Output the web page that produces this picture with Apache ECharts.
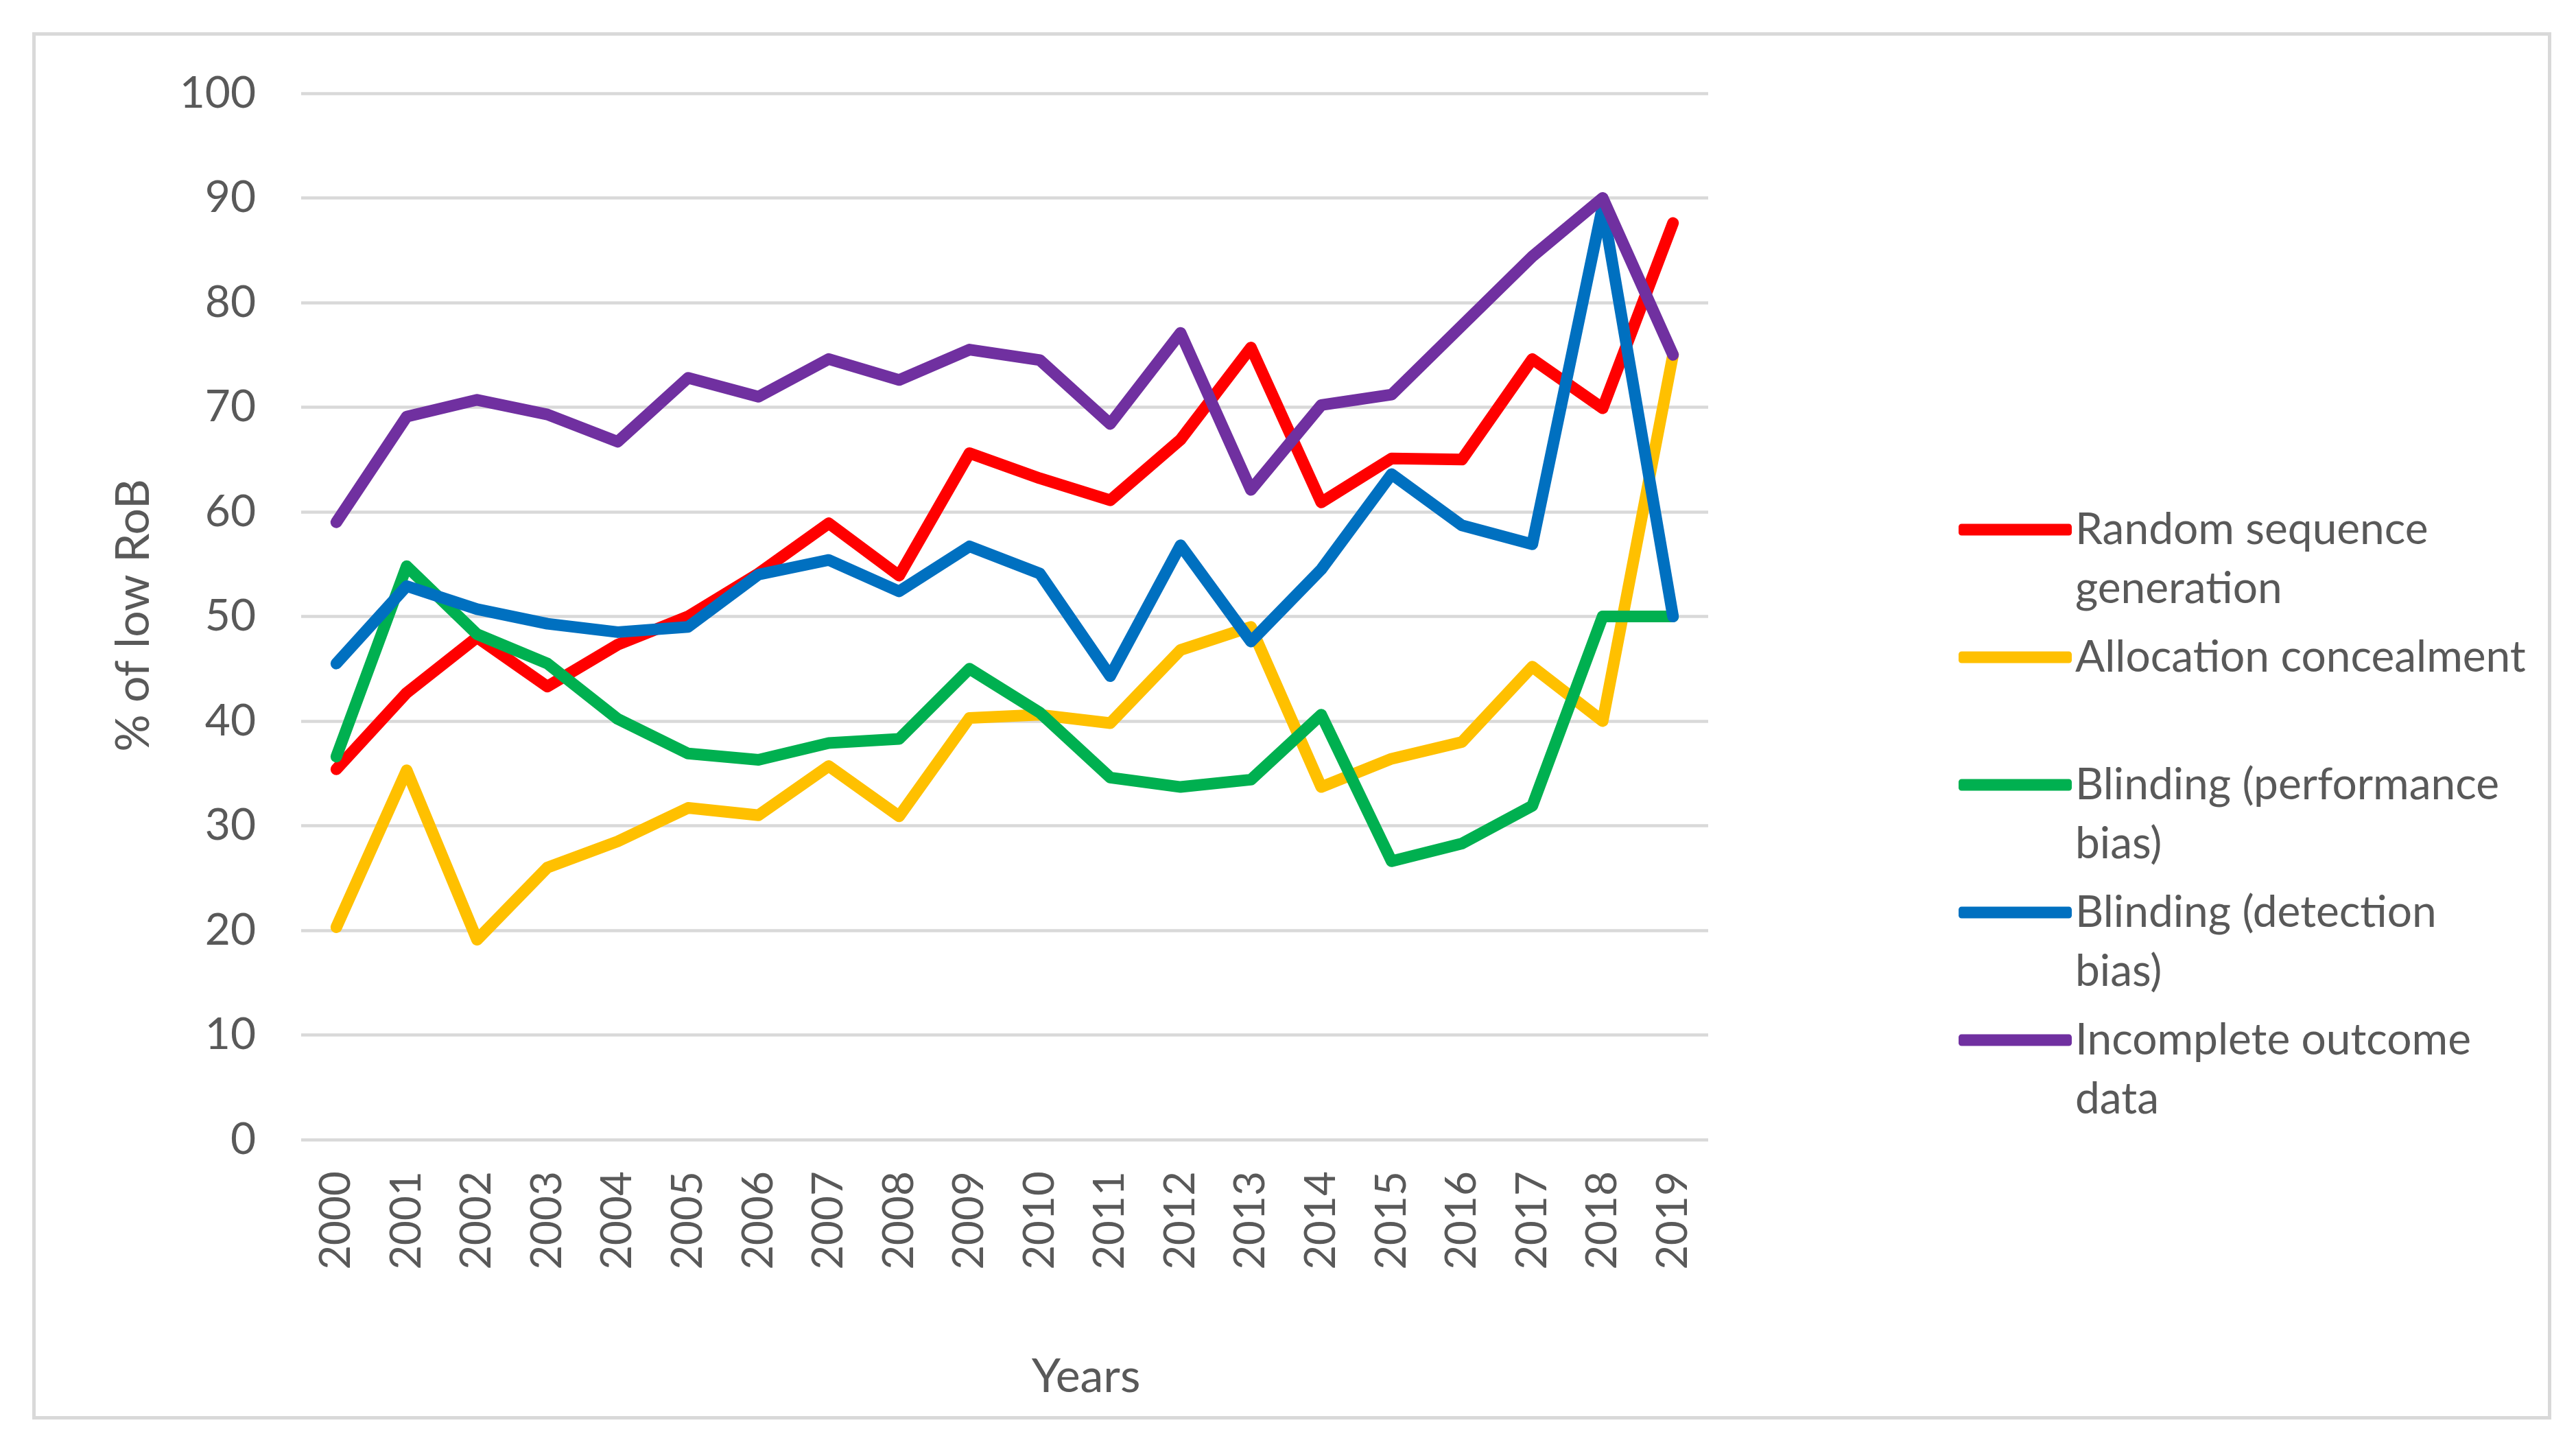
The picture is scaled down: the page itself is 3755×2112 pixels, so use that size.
<!DOCTYPE html>
<html>
<head>
<meta charset="utf-8">
<script src="https://cdn.jsdelivr.net/npm/echarts@6/dist/echarts.min.js"></script>
<style>
html,body{margin:0;padding:0;background:#fff;}
#chart{width:3755px;height:2112px;}
</style>
</head>
<body>
<div id="chart"></div>
<script>
const years = ['2000','2001','2002','2003','2004','2005','2006','2007','2008','2009','2010','2011','2012','2013','2014','2015','2016','2017','2018','2019'];
const yTicks = [0,10,20,30,40,50,60,70,80,90,100];

const seriesNames = ['Random sequence generation','Allocation concealment','Blinding (performance bias)','Blinding (detection bias)','Incomplete outcome data'];
const legendLabels = ['Random sequence\ngeneration','Allocation concealment','Blinding (performance\nbias)','Blinding (detection\nbias)','Incomplete outcome\ndata'];
const seriesColors = ['#FF0000','#FFC000','#00B050','#0070C0','#7030A0'];

const randomSeq    = [35.4, 42.7, 48.0, 43.3, 47.3, 50.0, 54.1, 58.9, 53.9, 65.6, 63.2, 61.1, 66.9, 75.7, 60.9, 65.1, 65.0, 74.6, 69.9, 87.6];
const allocation   = [20.3, 35.3, 19.1, 26.0, 28.5, 31.7, 31.0, 35.7, 30.9, 40.3, 40.6, 39.8, 46.8, 49.0, 33.7, 36.4, 38.0, 45.2, 40.0, 75.0];
const perfBlinding = [36.6, 54.8, 48.3, 45.5, 40.2, 36.9, 36.3, 37.9, 38.3, 45.0, 40.8, 34.6, 33.7, 34.4, 40.6, 26.6, 28.3, 31.9, 50.0, 50.0];
const detBlinding  = [45.5, 52.9, 50.7, 49.3, 48.5, 49.0, 54.0, 55.4, 52.4, 56.7, 54.1, 44.3, 56.8, 47.6, 54.5, 63.6, 58.7, 56.9, 89.2, 50.0];
const incomplete   = [59.0, 69.1, 70.7, 69.3, 66.7, 72.8, 71.0, 74.6, 72.6, 75.5, 74.5, 68.4, 77.1, 62.1, 70.2, 71.2, 77.8, 84.4, 90.0, 75.0];

const allData = [randomSeq, allocation, perfBlinding, detBlinding, incomplete];

const FONT = 'Lato';
const TXT = '#595959';
const legendCenters = [772, 958, 1144, 1330, 1516];
const LH = 86;

const legends = seriesNames.map((n, i) => {
  const twoLines = legendLabels[i].indexOf('\n') >= 0;
  // a leading empty line keeps the first text line level with the icon
  const label = twoLines ? '\n' + legendLabels[i] : legendLabels[i];
  return {
    show: true,
    data: [n],
    orient: 'vertical',
    left: 2855,
    top: legendCenters[i] - (twoLines ? 1.5 * LH : 0.5 * LH),
    padding: 0,
    itemWidth: 165,
    itemHeight: 17,
    icon: 'roundRect',
    selectedMode: false,
    formatter: () => label,
    textStyle: { fontFamily: FONT, fontSize: 64, color: TXT, lineHeight: LH }
  };
});

const chart = echarts.init(document.getElementById('chart'), null, {renderer: 'canvas'});
chart.setOption({
  backgroundColor: '#fff',
  animation: false,
  grid: { left: 439, right: 3755 - 2490, top: 136, bottom: 2112 - 1661, containLabel: false },
  legend: legends,
  xAxis: {
    type: 'category',
    data: years,
    boundaryGap: true,
    axisLine: { show: false },
    axisTick: { show: false },
    axisLabel: { rotate: 90, margin: 46, fontFamily: FONT, fontSize: 62, color: TXT }
  },
  yAxis: {
    type: 'value',
    min: 0, max: 100, interval: 10,
    axisLine: { show: false },
    axisTick: { show: false },
    axisLabel: { margin: 66, fontFamily: FONT, fontSize: 64, color: TXT,
      formatter: v => yTicks.indexOf(v) >= 0 ? String(v) : '' },
    splitLine: { lineStyle: { color: '#D9D9D9', width: 4.5 } }
  },
  series: seriesNames.map((n, i) => ({
    name: n,
    type: 'line',
    data: allData[i],
    symbol: 'none',
    color: seriesColors[i],
    lineStyle: { width: 17, color: seriesColors[i], cap: 'round', join: 'round' },
    itemStyle: { color: seriesColors[i] }
  })),
  graphic: [
    { type: 'rect', shape: { x: 49.5, y: 49.5, width: 3667, height: 2017 },
      style: { fill: 'none', stroke: '#D9D9D9', lineWidth: 5 }, silent: true },
    { type: 'text', x: 1583, y: 2007,
      style: { text: 'Years', fontFamily: FONT, fontSize: 68, fill: TXT, textAlign: 'center', textVerticalAlign: 'middle' } },
    { type: 'text', x: 195, y: 897, rotation: Math.PI / 2,
      style: { text: '% of low RoB', fontFamily: FONT, fontSize: 68, fill: TXT, textAlign: 'center', textVerticalAlign: 'middle' } }
  ]
});
</script>
</body>
</html>
